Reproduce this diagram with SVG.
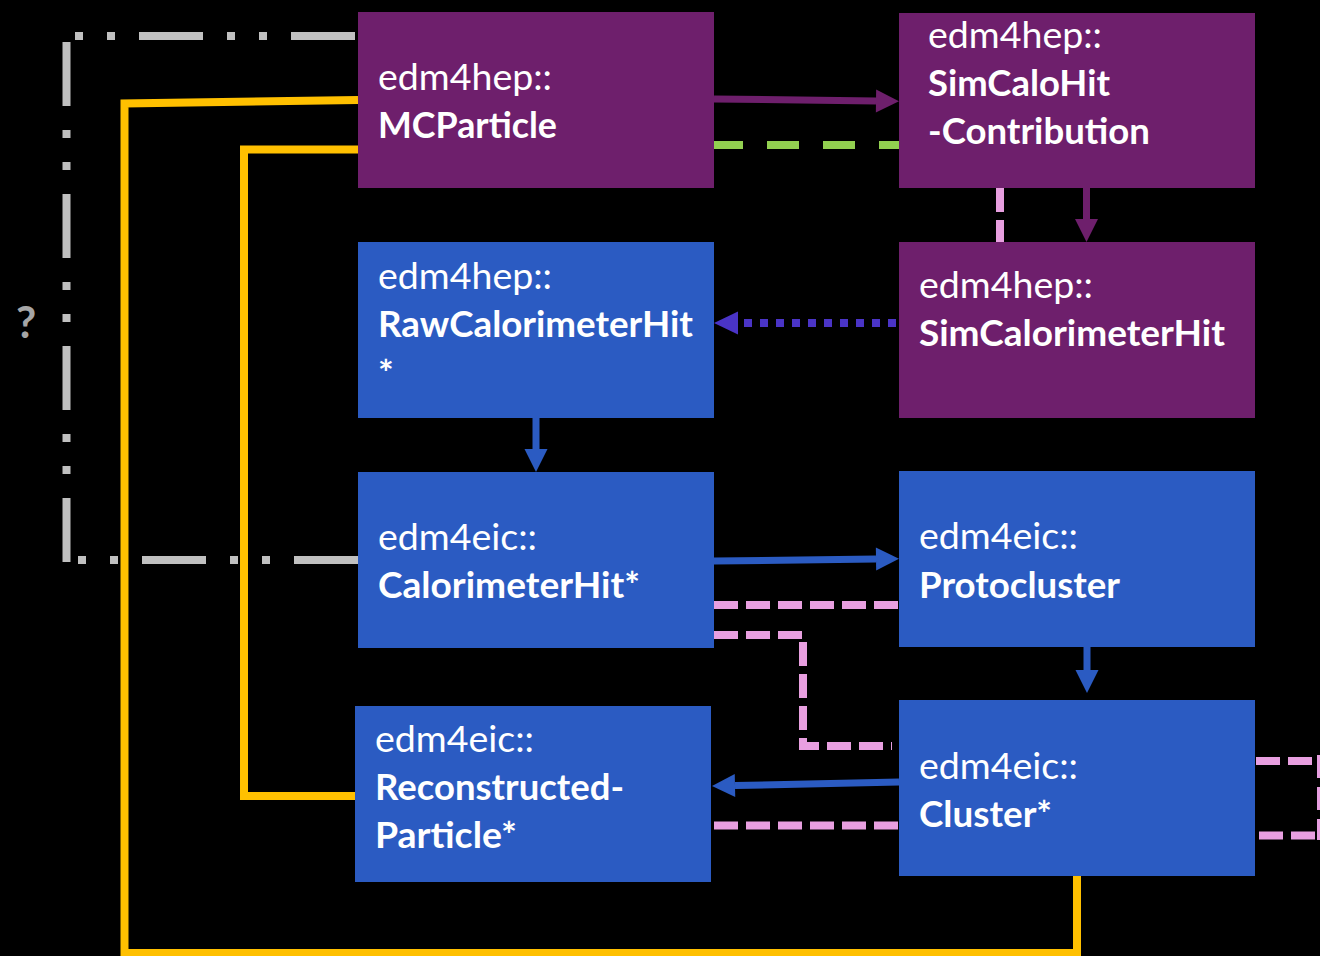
<svg xmlns="http://www.w3.org/2000/svg" width="1320" height="956" viewBox="0 0 1320 956">
  <style>
    .purple { fill: #6E1F6C; }
    .blue { fill: #2B5BC2; }
    .t { font-family: Lato, "Open Sans", "Liberation Sans", sans-serif; font-size: 37px; fill: #FFFFFF; }
    .b { font-weight: bold; }
    .q { font-family: Lato, "Open Sans", "Liberation Sans", sans-serif; font-size: 44px; font-weight: bold; fill: #A6A6A6; }
    .yel { stroke: #FFC000; stroke-width: 8; stroke-linejoin: miter; fill: none; }
    .gray { stroke: #C0C0C0; stroke-width: 8; stroke-dasharray: 64 24 8 24 8 24; fill: none; }
    .pink { stroke: #E89FE0; stroke-width: 8; stroke-dasharray: 24 8; fill: none; }
    .green { stroke: #92D050; stroke-width: 8; stroke-dasharray: 32 24; fill: none; }
    .parr { stroke: #6E1F6C; stroke-width: 7; fill: none; }
    .barr { stroke: #2B5BC2; stroke-width: 7; fill: none; }
    .dot { stroke: #4A34C6; stroke-width: 8; stroke-dasharray: 8 8; fill: none; }
  </style>
  <defs>
    <marker id="ahP" markerUnits="userSpaceOnUse" markerWidth="24" markerHeight="24" viewBox="0 -12 23 24" refX="0" refY="0" orient="auto">
      <path d="M0,-11.5 L23,0 L0,11.5 Z" fill="#6E1F6C"/>
    </marker>
    <marker id="ahB" markerUnits="userSpaceOnUse" markerWidth="24" markerHeight="24" viewBox="0 -12 23 24" refX="0" refY="0" orient="auto">
      <path d="M0,-11.5 L23,0 L0,11.5 Z" fill="#2B5BC2"/>
    </marker>
    <marker id="ahV" markerUnits="userSpaceOnUse" markerWidth="24" markerHeight="24" viewBox="0 -12 24 24" refX="0" refY="0" orient="auto">
      <path d="M0,-11.5 L24,0 L0,11.5 Z" fill="#4A34C6"/>
    </marker>
  </defs>
  <rect width="1320" height="956" fill="#000000"/>

  <g id="connectors">
    <path class="gray" d="M355,36 H70"/>
    <path class="gray" d="M66.5,42 V562"/>
    <path class="gray" d="M358,560 H70"/>
    <path class="yel" d="M358,100 L124.5,103.5 V953 H1077 V876"/>
    <path class="yel" d="M358,149.5 H244 V796 H355"/>
    <path class="parr" d="M714,99 L876,101" marker-end="url(#ahP)"/>
    <path class="green" d="M711,145 H899"/>
    <path class="pink" d="M1000,188 V242"/>
    <path class="parr" d="M1086.5,188 V219" marker-end="url(#ahP)"/>
    <path class="dot" d="M896,323 H738" marker-end="url(#ahV)"/>
    <path class="barr" d="M536,418 V449" marker-end="url(#ahB)"/>
    <path class="barr" d="M714,561 L876,559" marker-end="url(#ahB)"/>
    <path class="pink" d="M714,605 H898"/>
    <path class="pink" d="M714,635 H803 V746 H892"/>
    <path class="barr" d="M1087,647 V670" marker-end="url(#ahB)"/>
    <path class="barr" d="M899,782 L735,785.5" marker-end="url(#ahB)"/>
    <path class="pink" d="M714,825.5 H898"/>
    <path class="pink" d="M1256,761 H1317"/>
    <path class="pink" d="M1321,755 V840" style="stroke-dasharray: 23 9"/>
    <path class="pink" d="M1259,835.5 H1317"/>
  </g>

  <text class="q" x="16" y="338">?</text>

  <g id="MCParticle">
    <rect class="purple" x="358" y="12" width="356" height="176"/>
    <text class="t" x="378" y="90" textLength="174" lengthAdjust="spacingAndGlyphs">edm4hep::</text>
    <text class="t b" x="378" y="138" textLength="179" lengthAdjust="spacingAndGlyphs">MCParticle</text>
  </g>
  <g id="SimCaloHitContribution">
    <rect class="purple" x="899" y="13" width="356" height="175"/>
    <text class="t" x="928" y="48" textLength="174" lengthAdjust="spacingAndGlyphs">edm4hep::</text>
    <text class="t b" x="928" y="96" textLength="182" lengthAdjust="spacingAndGlyphs">SimCaloHit</text>
    <text class="t b" x="928" y="144" textLength="222" lengthAdjust="spacingAndGlyphs">-Contribution</text>
  </g>
  <g id="RawCalorimeterHit">
    <rect class="blue" x="358" y="242" width="356" height="176"/>
    <text class="t" x="378" y="289" textLength="174" lengthAdjust="spacingAndGlyphs">edm4hep::</text>
    <text class="t b" x="378" y="337" textLength="315" lengthAdjust="spacingAndGlyphs">RawCalorimeterHit</text>
    <text class="t b" x="378" y="386">*</text>
  </g>
  <g id="SimCalorimeterHit">
    <rect class="purple" x="899" y="242" width="356" height="176"/>
    <text class="t" x="919" y="298" textLength="174" lengthAdjust="spacingAndGlyphs">edm4hep::</text>
    <text class="t b" x="919" y="346" textLength="306" lengthAdjust="spacingAndGlyphs">SimCalorimeterHit</text>
  </g>
  <g id="CalorimeterHit">
    <rect class="blue" x="358" y="472" width="356" height="176"/>
    <text class="t" x="378" y="550" textLength="159" lengthAdjust="spacingAndGlyphs">edm4eic::</text>
    <text class="t b" x="378" y="598" textLength="262" lengthAdjust="spacingAndGlyphs">CalorimeterHit*</text>
  </g>
  <g id="Protocluster">
    <rect class="blue" x="899" y="471" width="356" height="176"/>
    <text class="t" x="919" y="549" textLength="159" lengthAdjust="spacingAndGlyphs">edm4eic::</text>
    <text class="t b" x="919" y="598" textLength="201" lengthAdjust="spacingAndGlyphs">Protocluster</text>
  </g>
  <g id="ReconstructedParticle">
    <rect class="blue" x="355" y="706" width="356" height="176"/>
    <text class="t" x="375" y="752" textLength="159" lengthAdjust="spacingAndGlyphs">edm4eic::</text>
    <text class="t b" x="375" y="800" textLength="249" lengthAdjust="spacingAndGlyphs">Reconstructed-</text>
    <text class="t b" x="375" y="848" textLength="142" lengthAdjust="spacingAndGlyphs">Particle*</text>
  </g>
  <g id="Cluster">
    <rect class="blue" x="899" y="700" width="356" height="176"/>
    <text class="t" x="919" y="779" textLength="159" lengthAdjust="spacingAndGlyphs">edm4eic::</text>
    <text class="t b" x="919" y="827" textLength="133" lengthAdjust="spacingAndGlyphs">Cluster*</text>
  </g>
</svg>
